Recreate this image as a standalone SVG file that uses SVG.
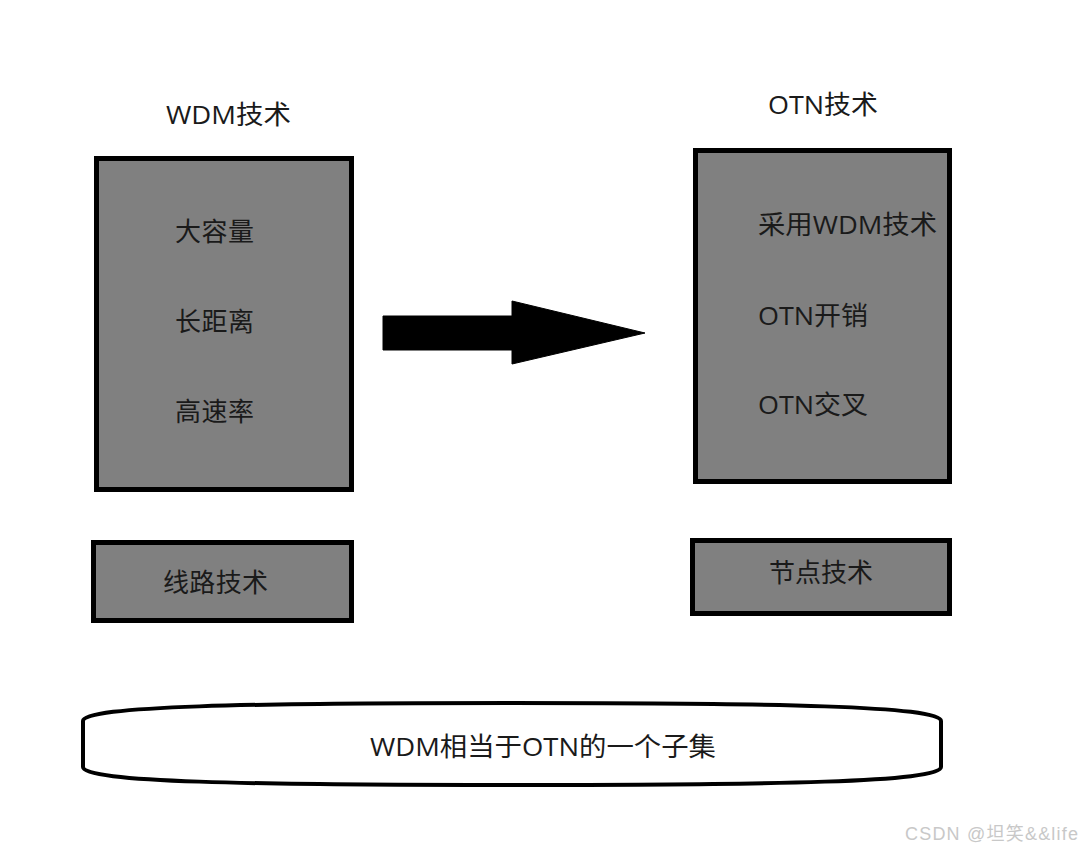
<svg xmlns="http://www.w3.org/2000/svg" width="1082" height="852" viewBox="0 0 1082 852">
<style>
.box{fill:#808080;stroke:#000;stroke-width:5}
.t{font-family:"Open Sans","Noto Sans CJK SC",sans-serif;font-size:26px;fill:#1a1a1a}
.wm{font-family:"Liberation Sans","Noto Sans CJK SC",sans-serif;font-size:18px;fill:#c8c8c8}
</style>
<rect width="1082" height="852" fill="#fff"/>
<g id="wdm-title"><text class="t" x="166" y="124" textLength="125" lengthAdjust="spacingAndGlyphs">WDM技术</text></g>
<g id="otn-title"><text class="t" x="768" y="114" textLength="110" lengthAdjust="spacingAndGlyphs">OTN技术</text></g>
<g id="wdm-box">
<rect class="box" x="96.5" y="158.5" width="255" height="331"/>
<text class="t" x="175" y="241" textLength="79">大容量</text>
<text class="t" x="175" y="331" textLength="79">长距离</text>
<text class="t" x="175" y="421" textLength="79">高速率</text>
</g>
<g id="otn-box">
<rect class="box" x="695.5" y="150.5" width="254" height="331"/>
<text class="t" x="758" y="234" textLength="179" lengthAdjust="spacingAndGlyphs">采用WDM技术</text>
<text class="t" x="758" y="325" textLength="110" lengthAdjust="spacingAndGlyphs">OTN开销</text>
<text class="t" x="758" y="414" textLength="110" lengthAdjust="spacingAndGlyphs">OTN交叉</text>
</g>
<g id="line-tech">
<rect class="box" x="93.5" y="542.5" width="258" height="78"/>
<text class="t" x="163" y="592" textLength="105">线路技术</text>
</g>
<g id="node-tech">
<rect class="box" x="692.5" y="540.5" width="257" height="73"/>
<text class="t" x="769" y="582" textLength="104">节点技术</text>
</g>
<g id="connectors">
<polygon points="383,316 512,316 512,301 645,333 512,364 512,350 383,350" fill="#000" stroke="#000" stroke-width="1" stroke-linejoin="round"/>
</g>
<g id="summary">
<path d="M83,721 C83,706 250,703 512,703 C774,703 941,706 941,721 L941,767 C941,782 774,785 512,785 C250,785 83,782 83,767 Z" fill="#fff" stroke="#000" stroke-width="4"/>
<text class="t" x="370" y="756" textLength="346" lengthAdjust="spacingAndGlyphs">WDM相当于OTN的一个子集</text>
</g>
<text class="wm" x="905" y="840" textLength="173">CSDN @坦笑&amp;&amp;life</text>
</svg>
